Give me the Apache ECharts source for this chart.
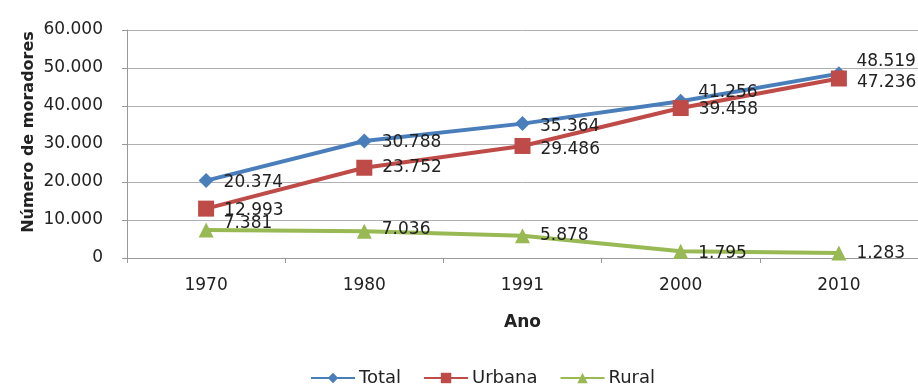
<!DOCTYPE html>
<html>
<head>
<meta charset="utf-8">
<script src="https://cdn.jsdelivr.net/npm/echarts@6/dist/echarts.min.js"></script>
<style>
html, body { margin: 0; padding: 0; background: #fff; }
#chart { width: 918px; height: 387px; }
</style>
</head>
<body>
<div id="chart"></div>
<script>
// dados
const anos = ['1970', '1980', '1991', '2000', '2010']
const total = [20374, 30788, 35364, 41256, 48519]
const urbana = [12993, 23752, 29486, 39458, 47236]
const rural = [7381, 7036, 5878, 1795, 1283]

// 12345 -> "12.345"
function fmt(v) {
  return String(v).replace(/\B(?=(\d{3})+(?!\d))/g, '.')
}

const chart = echarts.init(document.getElementById('chart'))

function makeLabel(dy) {
  return {
    show: true,
    position: 'right',
    distance: 10,
    offset: [0, dy],
    fontFamily: 'DejaVu Sans',
    fontSize: 17,
    color: '#222',
    formatter: p => fmt(p.value)
  }
}

// rótulos de Total sobem e de Urbana descem onde as linhas se aproximam
function withNudge(values, nudge) {
  return values.map((v, i) => ({ value: v, label: makeLabel(nudge[i]) }))
}

const axisFont = { fontFamily: 'DejaVu Sans', fontSize: 17, color: '#222' }

chart.setOption({
  animation: false,
  grid: { left: 127, top: 30, width: 795, height: 228 },
  graphic: [{
    type: 'text',
    x: 29,
    y: 132,
    rotation: Math.PI / 2,
    style: {
      text: 'Número de moradores',
      fontFamily: 'DejaVu Sans',
      fontWeight: 'bold',
      fontSize: 16,
      fill: '#222',
      align: 'center',
      verticalAlign: 'middle'
    }
  }],
  legend: {
    top: 364,
    left: 305,
    itemWidth: 44,
    itemHeight: 13,
    itemGap: 22,
    textStyle: { fontFamily: 'DejaVu Sans', fontSize: 18, color: '#222', padding: [0, 0, 0, -1] },
    data: ['Total', 'Urbana', 'Rural']
  },
  xAxis: {
    type: 'category',
    data: anos,
    name: 'Ano',
    nameLocation: 'middle',
    nameGap: 56,
    nameTextStyle: { fontFamily: 'DejaVu Sans', fontWeight: 'bold', fontSize: 17, color: '#222' },
    axisLine: { lineStyle: { color: '#999' } },
    axisTick: { show: true, length: 5, lineStyle: { color: '#999' } },
    axisLabel: Object.assign({ margin: 19 }, axisFont)
  },
  yAxis: {
    type: 'value',
    min: 0,
    max: 60000,
    interval: 10000,
    axisLine: { show: true, lineStyle: { color: '#999' } },
    axisTick: { show: true, length: 5, lineStyle: { color: '#999' } },
    axisLabel: Object.assign({ margin: 24, formatter: v => fmt(v) }, axisFont),
    splitLine: { lineStyle: { color: '#b0b0b0' } }
  },
  series: [
    {
      name: 'Total',
      type: 'line',
      data: withNudge(total, [2, 2, 3, -9, -12]),
      symbol: 'diamond',
      symbolSize: 15,
      lineStyle: { width: 4, color: '#4a7ebb' },
      itemStyle: { color: '#4a7ebb' }
    },
    {
      name: 'Urbana',
      type: 'line',
      data: withNudge(urbana, [2, 0, 4, 2, 4]),
      symbol: 'rect',
      symbolSize: 16,
      lineStyle: { width: 4, color: '#be4b48' },
      itemStyle: { color: '#be4b48' }
    },
    {
      name: 'Rural',
      type: 'line',
      data: withNudge(rural, [-6, -2, 0, 2, 0]),
      symbol: 'triangle',
      symbolSize: 15,
      lineStyle: { width: 4, color: '#98b954' },
      itemStyle: { color: '#98b954' }
    }
  ]
})
</script>
</body>
</html>
